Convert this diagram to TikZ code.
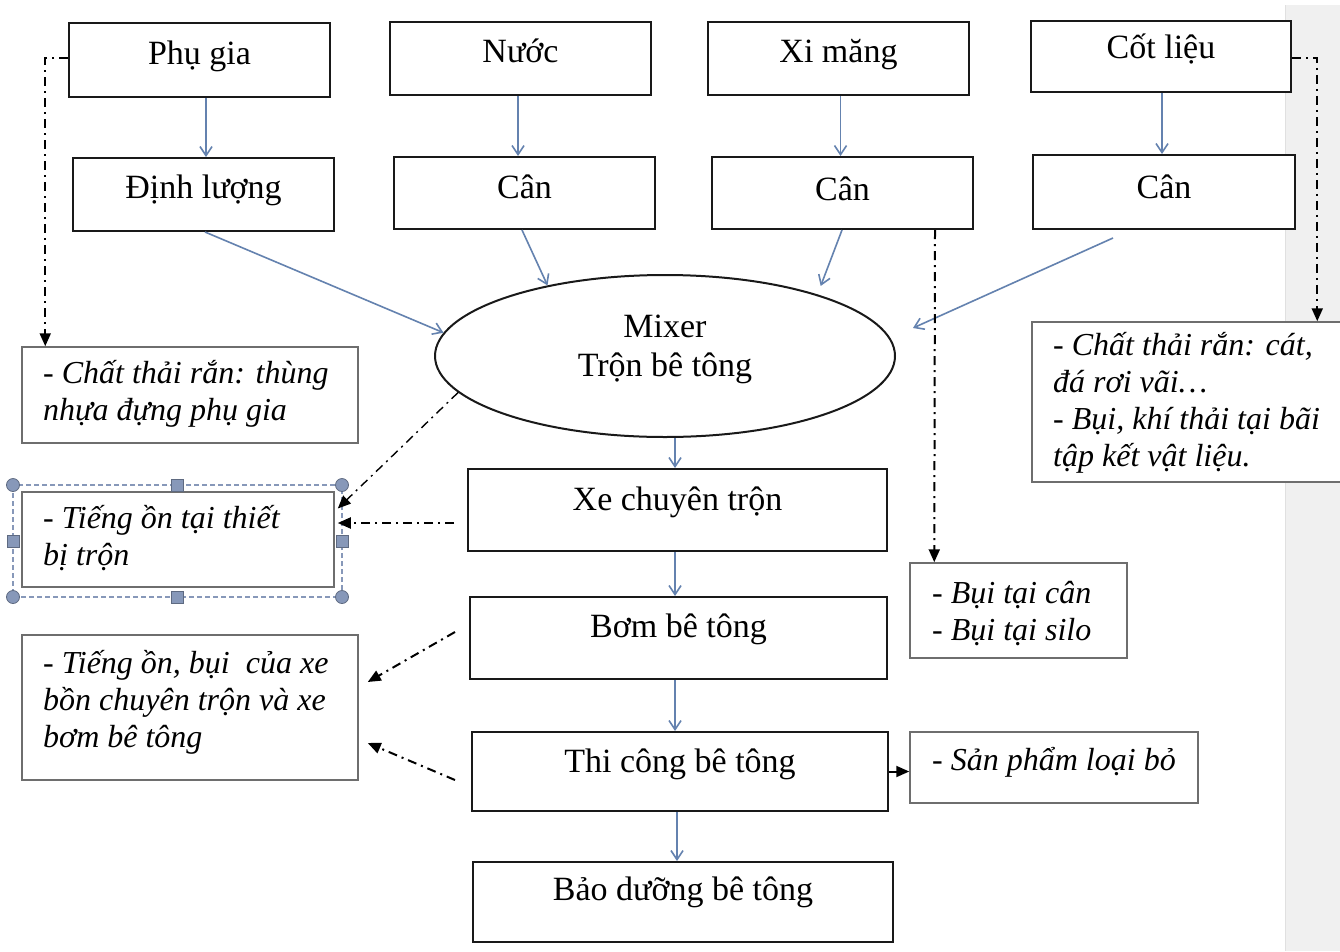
\documentclass[tikz,border=0pt]{standalone}
\usepackage{fontspec}
\setmainfont{Liberation Serif}
\usetikzlibrary{arrows.meta,shapes.geometric}
\definecolor{arrblue}{RGB}{100,130,175}
\definecolor{boxgray}{RGB}{110,110,110}
\definecolor{selblue}{RGB}{135,152,185}
\definecolor{stripgray}{RGB}{240,240,240}
\tikzset{
  mbox/.style={draw=black!90, fill=white, line width=2pt, rectangle, inner sep=0pt,
    text height=24pt, text depth=8pt, font=\fontsize{34}{40}\selectfont},
  wbox/.style={draw=boxgray, fill=white, line width=1.5pt, rectangle, inner sep=0pt},
  wtext/.style={anchor=base west, inner sep=0pt, font=\fontsize{32}{37}\selectfont\itshape},
  ba/.style={draw=arrblue, line width=1.6pt, -{Straight Barb[length=9pt,width=12pt,line width=1.6pt]}},
  dd/.style={draw=black, line width=2pt, dash pattern=on 9pt off 5pt on 2pt off 5pt,
    -{Triangle[length=13pt,width=11pt]}},
  handle/.style={fill=selblue, draw=selblue!70!black, line width=0.8pt},
}
\begin{document}
\begin{tikzpicture}[x=1pt,y=-1pt]
\useasboundingbox (0,0) rectangle (1340,951);
\clip (0,0) rectangle (1340,951);
\fill[white] (0,0) rectangle (1340,951);
% page margin strip
\fill[stripgray] (1285,5) rectangle (1345,951);
\draw[black!12, line width=1pt] (1285,5) -- (1285,951);

% main boxes
\node[mbox, minimum width=261pt, minimum height=74pt] (phu) at (199.5,60) {\raisebox{4pt}{Phụ gia}};
\node[mbox, minimum width=261pt, minimum height=73pt] (nuoc) at (520.5,58.5) {\raisebox{4.5pt}{Nước}};
\node[mbox, minimum width=261pt, minimum height=73pt] (xim) at (838.5,58.5) {\raisebox{4.5pt}{Xi măng}};
\node[mbox, minimum width=260pt, minimum height=71pt] (cot) at (1161,56.5) {\raisebox{6.5pt}{Cốt liệu}};
\node[mbox, minimum width=261pt, minimum height=73pt] (dl) at (203.5,194.5) {\raisebox{4.5pt}{Định lượng}};
\node[mbox, minimum width=261pt, minimum height=72pt] (can1) at (524.5,193) {\raisebox{3pt}{Cân}};
\node[mbox, minimum width=261pt, minimum height=72pt] (can2) at (842.5,193) {\raisebox{1pt}{Cân}};
\node[mbox, minimum width=262pt, minimum height=74pt] (can3) at (1164,192) {\raisebox{2pt}{Cân}};
\node[draw=black!90, fill=white, line width=2pt, ellipse, inner sep=0pt,
      minimum width=460pt, minimum height=162pt,
      label={[yshift=6.5pt, align=center, font=\fontsize{34}{39}\selectfont]center:Mixer\\Trộn bê tông}]
      (mixer) at (665,356) {};
\node[mbox, minimum width=419pt, minimum height=82pt] (xe) at (677.5,510) {\raisebox{8pt}{Xe chuyên trộn}};
\node[mbox, minimum width=417pt, minimum height=82pt] (bom) at (678.5,638) {\raisebox{9pt}{Bơm bê tông}};
\node[mbox, minimum width=416pt, minimum height=79pt] (tc) at (680,771.5) {\raisebox{7.5pt}{Thi công bê tông}};
\node[mbox, minimum width=420pt, minimum height=80pt] (bd) at (683,902) {\raisebox{10pt}{Bảo dưỡng bê tông}};

% selection frame round w2
\draw[selblue, line width=1.2pt, dash pattern=on 5pt off 3pt] (13,485) rectangle (342,597);

% waste boxes
\node[wbox, minimum width=336pt, minimum height=96pt] (w1) at (190,395) {};
\node[wbox, minimum width=312pt, minimum height=95pt] (w2) at (178,539.5) {};
\node[wbox, minimum width=336pt, minimum height=145pt] (w3) at (190,707.5) {};
\node[wbox, minimum width=318pt, minimum height=160pt] (w4) at (1191,402) {};
\node[wbox, minimum width=217pt, minimum height=95pt] (w5) at (1018.5,610.5) {};
\node[wbox, minimum width=288pt, minimum height=71pt] (w6) at (1054,767.5) {};

\node[wtext] (w1t) at (43,383) {\parbox[t]{400pt}{\raggedright - Chất thải rắn: thùng\\nhựa đựng phụ gia}};
\node[wtext] (w2t) at (43,528) {\parbox[t]{400pt}{\raggedright - Tiếng ồn tại thiết\\bị trộn}};
\node[wtext] (w3t) at (43,673) {\parbox[t]{400pt}{\raggedright - Tiếng ồn, bụi\ \ của xe\\bồn chuyên trộn và xe\\bơm bê tông}};
\node[wtext] (w4t) at (1053,355) {\parbox[t]{400pt}{\raggedright - Chất thải rắn: cát,\\đá rơi vãi…\\- Bụi, khí thải tại bãi\\tập kết vật liệu.}};
\node[wtext] (w5t) at (932,603) {\parbox[t]{400pt}{\raggedright - Bụi tại cân\\- Bụi tại silo}};
\node[wtext] (w6t) at (932,770) {- Sản phẩm loại bỏ};

% selection handles
\foreach \p in {(13,485),(342,485),(13,597),(342,597)}
  \filldraw[handle] \p circle (6.5pt);
\foreach \p in {(177.5,485),(177.5,597),(13,541),(342,541)}
  \filldraw[handle] \p ++(-6,-6) rectangle ++(12,12);

% blue flow arrows
\draw[ba] ([xshift=6.5pt]phu.south) -- ([xshift=2.5pt]dl.north);
\draw[ba] ([xshift=-2.5pt]nuoc.south) -- ([xshift=-6.5pt]can1.north);
\draw[ba] ([xshift=2pt]xim.south) -- ([xshift=-2pt]can2.north);
\draw[ba] ([xshift=1pt]cot.south) -- ([xshift=-2pt]can3.north);
\draw[ba] ([xshift=1.5pt]dl.south) -- (mixer.174);
\draw[ba] ([xshift=-2.5pt]can1.south) -- (mixer.149);
\draw[ba, shorten >=9pt] ([xshift=-0.5pt]can2.south) -- (mixer.22.4);
\coordinate (c3) at (913,328);
\draw[ba] ([xshift=-51pt,yshift=-8pt]can3.south) -- (c3);
\draw[ba] ([xshift=10pt]mixer.south) -- ([xshift=-2.5pt]xe.north);
\draw[ba] ([xshift=-2.5pt]xe.south) -- ([xshift=-3.5pt]bom.north);
\draw[ba] ([xshift=-3.5pt]bom.south) -- ([xshift=-5pt]tc.north);
\draw[ba] ([xshift=-3pt]tc.south) -- ([xshift=-6pt]bd.north);

% waste (dash-dot) arrows
\draw[dd] ([yshift=2pt]phu.west) -| ([xshift=24pt]w1.north west);
\draw[dd] ([yshift=-1.5pt]cot.east) -| ([xshift=286pt]w4.north west);
\draw[dd] ([xshift=92.5pt]can2.south) -- ([xshift=25pt]w5.north west);
\draw[dd, line width=1.4pt] (mixer.190) -- ([xshift=3pt,yshift=31pt]w2.east);
\draw[dd] ([xshift=-13pt,yshift=-13pt]xe.west) -- ([xshift=3pt,yshift=16.5pt]w2.east);
\draw[dd] ([xshift=-14pt,yshift=6pt]bom.west) -- ([xshift=9pt,yshift=25.5pt]w3.east);
\draw[dd] ([xshift=-16pt,yshift=-8.5pt]tc.west) -- ([xshift=9pt,yshift=-35.5pt]w3.east);
\draw[line width=2pt, -{Triangle[length=13pt,width=11pt]}] (tc.east) -- (w6.west |- tc.east);
\end{tikzpicture}
\end{document}
